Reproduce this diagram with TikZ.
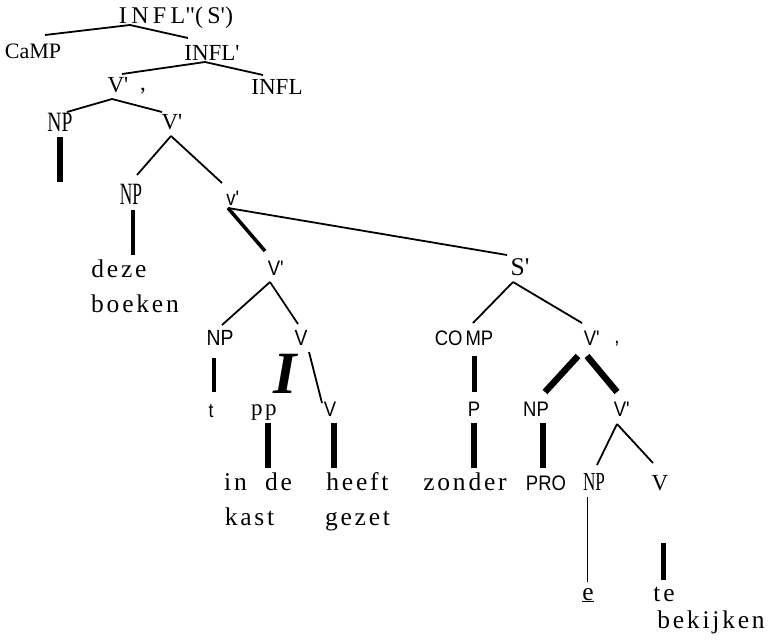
\documentclass[tikz,border=0pt]{standalone}
\usepackage{fontspec}
\usepackage{graphicx}
\setmainfont{Liberation Serif}
\newfontfamily\lsf[LetterSpace=11]{Liberation Serif}
\newfontfamily\lsfw[LetterSpace=18]{Liberation Serif}
\newfontfamily\ssf[FakeStretch=0.88]{Liberation Sans}
\newcommand\qq{\textquotesingle}
\tikzset{
  ls/.style={font=\fontsize{25.5}{25.5}\lsf, inner sep=0pt, anchor=base},
  sr/.style={font=\fontsize{23}{23}\selectfont, inner sep=0pt, anchor=base},
  npc/.style={font=\fontsize{28}{28}\selectfont, inner sep=0pt, anchor=base},
  sa/.style={font=\fontsize{21}{21}\ssf, inner sep=0pt, anchor=base},
  edge/.style={line width=1.8pt},
  thinedge/.style={line width=1pt},
  midedge/.style={line width=3.5pt},
  bar/.style={line width=5.5pt},
  thickedge/.style={line width=6.5pt},
}
\begin{document}
\begin{tikzpicture}[x=1pt,y=-1pt]
\useasboundingbox (0,0) rectangle (770,640);
% nodes
\node[ls, font=\fontsize{24}{24}\lsfw] (top) at (176,23) {INFL\textquotedbl(S\qq)};
\node[sr, font=\fontsize{22}{22}\selectfont] (camp) at (33,58) {CaMP};
\node[sr] (inflb) at (212,60) {INFL\qq};
\node[sr] (vb1) at (118,92) {V\qq};
\node[sr] (c1) at (143,90) {,};
\node[sr] (infl) at (277,94) {INFL};
\node[npc] (np1) at (60,131) {\scalebox{0.7}[1]{NP}};
\node[sr] (vb2) at (172,129) {V\qq};
\node[npc, font=\fontsize{31}{31}\selectfont] (np2) at (131,204) {\scalebox{0.56}[1]{NP}};
\node[sa] (vb3) at (233,205) {v\qq};
\node[ls] (deze) at (119,277) {deze};
\node[ls] (boeken) at (135,312) {boeken};
\node[sa] (vb4) at (276,275) {V\qq};
\node[ls] (sbar) at (520,275) {S\qq};
\node[sa, font=\fontsize{22}{22}\ssf] (np3) at (220,345) {NP};
\node[sa, font=\fontsize{22}{22}\ssf] (v1) at (301,345) {V};
\node[sa, font=\fontsize{20}{20}\ssf] (t) at (211,417) {t};
\node[font=\fontsize{60}{60}\bfseries\itshape, inner sep=0pt, anchor=base] (bigI) at (285,393) {I};
\node[ls, font=\fontsize{23}{23}\lsf] (pp) at (264,415) {pp};
\node[sa] (v2) at (330,416) {V};
\node[ls] (in) at (235.5,490) {in};
\node[ls] (de) at (278.5,490) {de};
\node[ls] (kast) at (249.5,525) {kast};
\node[ls] (heeft) at (357.5,490) {heeft};
\node[ls] (gezet) at (357.5,525) {gezet};
\node[sa] (comp) at (464,345) {CO\kern3pt MP};
\node[sa] (vb5) at (592,345) {V\qq};
\node[sa] (c2) at (617,343) {,};
\node[sa] (p) at (474,416) {P};
\node[sa] (np4) at (536,416) {NP};
\node[sa] (vb6) at (622,416) {V\qq};
\node[ls] (zonder) at (465,490) {zonder};
\node[sa] (pro) at (546,490) {PRO};
\node[npc, font=\fontsize{26}{26}\selectfont] (np5) at (594,490) {\scalebox{0.66}[1]{NP}};
\node[sr] (v3) at (660,490) {V};
\node[ls] (e) at (588,600) {\underline{e}};
\node[ls] (te) at (664,601) {te};
\node[ls] (bek) at (711,628) {bekijken};
% edges
\draw[edge] ([shift={(-46,2)}]top.base) -- ([shift={(12,-23)}]camp.base);
\draw[edge] ([shift={(-46,2)}]top.base) -- ([shift={(-24,-22)}]inflb.base);
\draw[edge] ([shift={(-7,2)}]inflb.base) -- ([shift={(4,-18)}]vb1.base);
\draw[edge] ([shift={(-7,2)}]inflb.base) -- ([shift={(-14,-19)}]infl.base);
\draw[edge] ([shift={(-6,7)}]vb1.base) -- ([shift={(7,-19)}]np1.base);
\draw[edge] ([shift={(-6,7)}]vb1.base) -- ([shift={(-10,-17)}]vb2.base);
\draw[bar] ([shift={(0,6)}]np1.base) -- ([shift={(0,51)}]np1.base);
\draw[edge] ([shift={(-1,7)}]vb2.base) -- ([shift={(6,-29)}]np2.base);
\draw[edge] ([shift={(-1,7)}]vb2.base) -- ([shift={(-11,-22)}]vb3.base);
\draw[line width=4pt] ([shift={(2,6)}]np2.base) -- ([shift={(14,-22)}]deze.base);
\draw[midedge] ([shift={(-5,3)}]vb3.base) -- ([shift={(-11,-24)}]vb4.base);
\draw[edge] ([shift={(-5,3)}]vb3.base) -- ([shift={(-13,-20)}]sbar.base);
\draw[edge] ([shift={(-6,7)}]vb4.base) -- ([shift={(2,-20)}]np3.base);
\draw[edge] ([shift={(-6,7)}]vb4.base) -- ([shift={(-3,-21)}]v1.base);
\draw[line width=4.5pt] ([shift={(-6,13)}]np3.base) -- ([shift={(3,-25)}]t.base);
\draw[edge] ([shift={(8,7)}]v1.base) -- ([shift={(-8,-13)}]v2.base);
\draw[bar] ([shift={(4,8)}]pp.base) -- ([shift={(-10.5,-22)}]de.base);
\draw[bar] ([shift={(4,7)}]v2.base) -- ([shift={(-23.5,-22)}]heeft.base);
\draw[edge] ([shift={(-7,7)}]sbar.base) -- ([shift={(9,-22)}]comp.base);
\draw[edge] ([shift={(-7,7)}]sbar.base) -- ([shift={(-10,-22)}]vb5.base);
\draw[line width=5pt] ([shift={(10,11)}]comp.base) -- ([shift={(0,-24)}]p.base);
\draw[thickedge] ([shift={(-14,11)}]vb5.base) -- ([shift={(9,-24)}]np4.base);
\draw[thickedge] ([shift={(-5,11)}]vb5.base) -- ([shift={(-5,-24)}]vb6.base);
\draw[bar] ([shift={(0,7)}]p.base) -- ([shift={(9,-22)}]zonder.base);
\draw[bar] ([shift={(7,7)}]np4.base) -- ([shift={(-3,-22)}]pro.base);
\draw[edge] ([shift={(-5,8)}]vb6.base) -- ([shift={(3,-25)}]np5.base);
\draw[edge] ([shift={(-5,8)}]vb6.base) -- ([shift={(-7,-27)}]v3.base);
\draw[thinedge] ([shift={(-7,7)}]np5.base) -- ([shift={(-1,-18)}]e.base);
\draw[line width=5pt] ([shift={(3,53)}]v3.base) -- ([shift={(-1,-21)}]te.base);
\end{tikzpicture}
\end{document}
